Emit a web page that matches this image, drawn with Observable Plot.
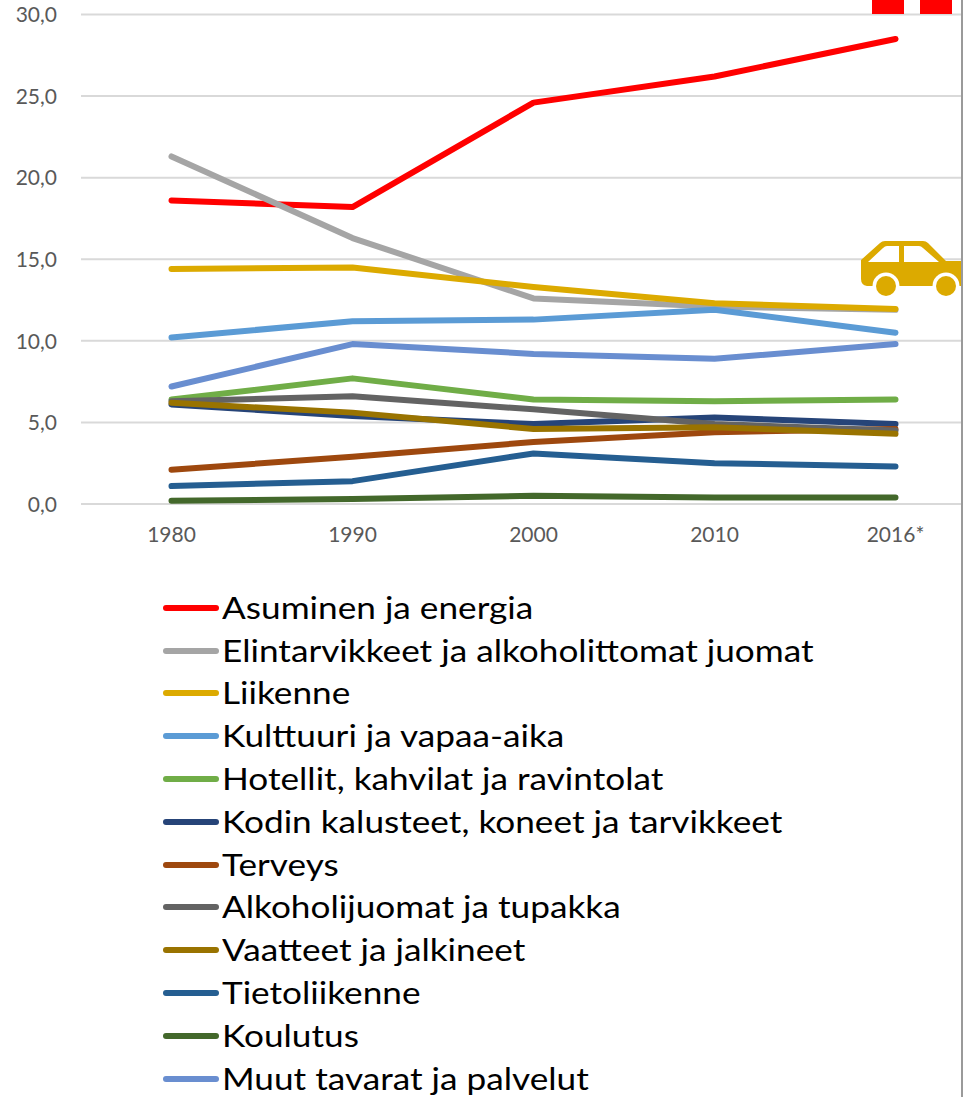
<!DOCTYPE html>
<html><head><meta charset="utf-8">
<script src="https://cdn.jsdelivr.net/npm/d3@7"></script>
<script src="https://cdn.jsdelivr.net/npm/@observablehq/plot@0.6"></script>
<style>
html,body{margin:0;padding:0;background:#fff;overflow:hidden}
#wrap{position:relative;width:963px;height:1097px;overflow:hidden}
#chart svg{display:block;background:transparent}
#legend{position:absolute;left:163px;top:586.4px;font-family:Lato,Carlito,sans-serif;font-size:31px;color:#000}
.row{height:42.8px;display:flex;align-items:center;white-space:nowrap}
.sw{width:56px;height:6px;border-radius:3px;margin-right:3px;flex:none}
.txt{display:inline-block;transform:scaleX(1.135);transform-origin:left center;position:relative;top:-1px}
.red{position:absolute;top:0;height:14px;background:#ff0000}
#edge{position:absolute;left:961px;top:0;width:2px;height:1097px;background:#9a9a9a}
#car{position:absolute;left:861px;top:241px}
</style></head><body>
<div id="wrap">
<div id="chart"></div>
<div class="red" style="left:872px;width:32px"></div>
<div class="red" style="left:920px;width:32px"></div>
<svg id="car" width="102" height="57" viewBox="0 0 102 57">
<path fill="#dcaa00" d="M0 19 L19 2 Q21 0 24 0 L62 0 Q65 0 67 2 L85 20 L102 20 L102 45 L6 45 Q0 44 0 38 Z"/>
<path fill="#fff" d="M7 21 L22 7 Q24 5 26 5 L38 5 L38 21 Z M43 5 L58 5 Q60 5 62 7 L78 21 L43 21 Z"/>
<circle cx="25" cy="45" r="13.5" fill="#fff"/><circle cx="85" cy="45" r="13.5" fill="#fff"/>
<circle cx="25" cy="45" r="10" fill="#dcaa00"/><circle cx="85" cy="45" r="10" fill="#dcaa00"/>
</svg>
<div id="edge"></div>
<div id="legend"></div>
</div>
<script>
const years = ["1980","1990","2000","2010","2016*"];
const yTicks = [0,5,10,15,20,25,30];
const names = ["Asuminen ja energia","Elintarvikkeet ja alkoholittomat juomat","Liikenne","Kulttuuri ja vapaa-aika","Hotellit, kahvilat ja ravintolat","Kodin kalusteet, koneet ja tarvikkeet","Terveys","Alkoholijuomat ja tupakka","Vaatteet ja jalkineet","Tietoliikenne","Koulutus","Muut tavarat ja palvelut"];
const colors = ["#ff0000","#a5a5a5","#dcaa00","#5b9bd5","#70ad47","#264478","#9e480e","#636363","#997300","#255e91","#43682b","#698ed0"];
const asuminen = [18.6,18.2,24.6,26.2,28.5];
const elintarvikkeet = [21.3,16.3,12.6,12.1,11.9];
const liikenne = [14.4,14.5,13.3,12.3,11.95];
const kulttuuri = [10.2,11.2,11.3,11.9,10.5];
const hotellit = [6.4,7.7,6.4,6.3,6.4];
const kodin = [6.1,5.4,4.9,5.3,4.9];
const terveys = [2.1,2.9,3.8,4.4,4.6];
const alkoholi = [6.3,6.6,5.8,4.9,4.5];
const vaatteet = [6.2,5.6,4.6,4.7,4.3];
const tieto = [1.1,1.4,3.1,2.5,2.3];
const koulutus = [0.2,0.3,0.5,0.4,0.4];
const muut = [7.2,9.8,9.2,8.9,9.8];
const series = [asuminen,elintarvikkeet,liikenne,kulttuuri,hotellit,kodin,terveys,alkoholi,vaatteet,tieto,koulutus,muut];
const rows = series.flatMap((vals,i)=>vals.map((v,j)=>({name:names[i],year:years[j],value:v})));
const fmt = d => d.toFixed(1).replace(".",",");
const font = "Lato,Carlito,sans-serif";
const plot = Plot.plot({
  width:963,height:560,marginLeft:81,marginRight:2,marginTop:0,marginBottom:56,
  style:{fontFamily:font,fontSize:"21px",color:"#595959",background:"transparent"},
  x:{type:"point",domain:years,range:[170.5,895],padding:0,label:null},
  y:{domain:[0,30],range:[503.5,14],label:null},
  color:{domain:names,range:colors},
  marks:[
    Plot.ruleY(yTicks,{stroke:"#d9d9d9",strokeWidth:2}),
    Plot.axisY({ticks:yTicks,tickFormat:fmt,tickSize:0,tickPadding:24.5,dy:1,label:null,fill:"#595959"}),
    Plot.axisX({tickSize:0,tickPadding:23,label:null,fill:"#595959"}),
    Plot.line(rows,{x:"year",y:"value",z:"name",stroke:"name",strokeWidth:6,strokeLinecap:"round",strokeLinejoin:"round",curve:"linear"})
  ]
});
document.getElementById("chart").appendChild(plot);
const lg = document.getElementById("legend");
names.forEach((n,i)=>{
  const r=document.createElement("div");r.className="row";
  const s=document.createElement("span");s.className="sw";s.style.background=colors[i];
  const t=document.createElement("span");t.className="txt";t.textContent=n;
  r.append(s,t);lg.append(r);
});
</script>
</body></html>
